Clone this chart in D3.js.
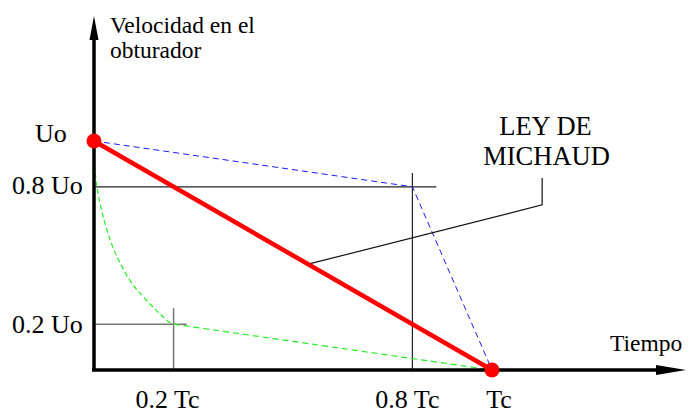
<!DOCTYPE html>
<html>
<head>
<meta charset="utf-8">
<script src="https://cdn.jsdelivr.net/npm/d3@7"></script>
<style>
  html, body { margin: 0; padding: 0; background: #fff; }
  svg { display: block; font-family: "Liberation Serif", "Times New Roman", serif; }
</style>
</head>
<body>
<svg id="chart" width="688" height="413"></svg>
<script>
// ---- data (fractions of Tc and Uo) ----
const timeTicks = [0.2, 0.8, 1];
const timeTickLabels = ["0.2 Tc", "0.8 Tc", "Tc"];
const speedTicks = [1, 0.8, 0.2];
const speedTickLabels = ["Uo", "0.8 Uo", "0.2 Uo"];

const michaudLine = [[0, 1], [1, 0]];
const blueLaw = [[0, 1], [0.8, 0.8], [1, 0]];
const greenLaw = [
  [0, 1], [0.003, 0.866], [0.008, 0.795], [0.018, 0.707], [0.031, 0.62],
  [0.048, 0.533], [0.068, 0.459], [0.093, 0.384], [0.127, 0.314],
  [0.161, 0.253], [0.193, 0.205], [0.2, 0.2], [1, 0]
];
const keyPoints = [[0, 1], [1, 0]];

// guide lines: [x1, y1, x2, y2] in data units
const guides08 = [[0, 0.8, 0.86, 0.8], [0.8, 0, 0.8, 0.86]];
const guides02 = [[0, 0.2, 0.233, 0.2], [0.2, 0, 0.2, 0.27]];

const svg = d3.select("#chart");
const x = d3.scaleLinear().domain([0, 1]).range([94, 492]);
const y = d3.scaleLinear().domain([0, 1]).range([370, 141]);

const line = d3.line().x(d => x(d[0])).y(d => y(d[1]));
const curve = d3.line().x(d => x(d[0])).y(d => y(d[1])).curve(d3.curveMonotoneX);

// guide lines
svg.selectAll("line.g08").data(guides08).enter().append("line")
  .attr("x1", d => x(d[0])).attr("y1", d => y(d[1]))
  .attr("x2", d => x(d[2])).attr("y2", d => y(d[3]))
  .attr("stroke", "#222").attr("stroke-width", 1.2);
svg.selectAll("line.g02").data(guides02).enter().append("line")
  .attr("x1", d => x(d[0])).attr("y1", d => y(d[1]))
  .attr("x2", d => x(d[2])).attr("y2", d => y(d[3]))
  .attr("stroke", "#777").attr("stroke-width", 1.5);

// blue dashed
svg.append("path").attr("d", line(blueLaw))
  .attr("fill", "none").attr("stroke", "#1a1aff").attr("stroke-width", 1)
  .attr("stroke-dasharray", "6,4");

// green dashed
svg.append("path").attr("d", curve(greenLaw.slice(0, 12)))
  .attr("fill", "none").attr("stroke", "#22ee22").attr("stroke-width", 1.2)
  .attr("stroke-dasharray", "5,3");
svg.append("path").attr("d", line(greenLaw.slice(11)))
  .attr("fill", "none").attr("stroke", "#22ee22").attr("stroke-width", 1.2)
  .attr("stroke-dasharray", "6,4");

// leader line for annotation
const leader = [[0.538, 0.462], [1.126, 0.721], [1.126, 0.838]];
svg.append("path").attr("d", line(leader))
  .attr("fill", "none").attr("stroke", "#111").attr("stroke-width", 1.2);

// axes
svg.append("line").attr("x1", x(0)).attr("y1", y(0)).attr("x2", x(0)).attr("y2", 36)
  .attr("stroke", "#000").attr("stroke-width", 3.5);
svg.append("path").attr("d", "M" + x(0) + ",16 L" + (x(0) - 4.5) + ",40 L" + (x(0) + 4.5) + ",40 Z")
  .attr("fill", "#000");
svg.append("line").attr("x1", x(0) - 2).attr("y1", y(0)).attr("x2", 660).attr("y2", y(0))
  .attr("stroke", "#000").attr("stroke-width", 3.5);
svg.append("path").attr("d", "M686," + y(0) + " L656," + (y(0) - 5) + " L656," + (y(0) + 5) + " Z")
  .attr("fill", "#000");

// Michaud red line
svg.append("path").attr("d", line(michaudLine))
  .attr("fill", "none").attr("stroke", "#ff0000").attr("stroke-width", 4.5);

svg.selectAll("circle.kp").data(keyPoints).enter().append("circle")
  .attr("cx", d => x(d[0])).attr("cy", d => y(d[1])).attr("r", 7.5)
  .attr("fill", "#ff0000");

// axis titles
svg.append("text").attr("x", 110).attr("y", 33).attr("font-size", 23.5).text("Velocidad en el");
svg.append("text").attr("x", 110).attr("y", 58).attr("font-size", 23.5).text("obturador");
svg.append("text").attr("x", 610).attr("y", 351).attr("font-size", 23.5).text("Tiempo");

// y tick labels
const yLabelX = [35, 12, 12];
const yLabelDy = [1, 7, 9];
svg.selectAll("text.yt").data(speedTicks).enter().append("text")
  .attr("x", (d, i) => yLabelX[i]).attr("y", (d, i) => y(d) + yLabelDy[i])
  .attr("font-size", 26).text((d, i) => speedTickLabels[i]);

// x tick labels
const xLabelDx = [-6, -5, 7];
svg.selectAll("text.xt").data(timeTicks).enter().append("text")
  .attr("x", (d, i) => x(d) + xLabelDx[i]).attr("y", 408)
  .attr("text-anchor", "middle").attr("font-size", 26)
  .text((d, i) => timeTickLabels[i]);

// annotation
svg.append("text").attr("x", 545.5).attr("y", 135).attr("text-anchor", "middle")
  .attr("font-size", 26.5).text("LEY DE");
svg.append("text").attr("x", 546.5).attr("y", 165).attr("text-anchor", "middle")
  .attr("font-size", 26.5).text("MICHAUD");
</script>
</body>
</html>
